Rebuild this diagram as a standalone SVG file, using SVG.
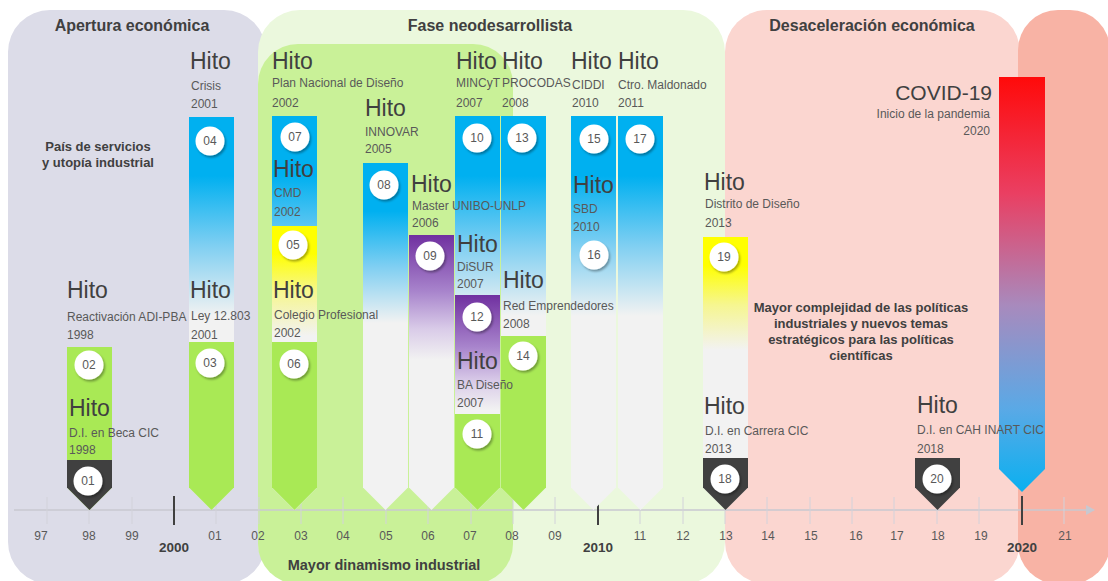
<svg xmlns="http://www.w3.org/2000/svg" width="1108" height="581" viewBox="0 0 1108 581">
<defs>
<style>
text{font-family:"Liberation Sans",Arial,sans-serif}
.h{font-size:23px;fill:#404040}
.d{font-size:12px;fill:#595959}
.t{font-size:16px;font-weight:bold;fill:#404040;text-anchor:middle}
.c{font-size:13px;font-weight:bold;fill:#404040;text-anchor:middle}
.n{font-size:12px;fill:#595959;text-anchor:middle}
.yr{font-size:12px;fill:#595959;text-anchor:middle}
.yb{font-size:13.5px;font-weight:bold;fill:#404040;text-anchor:middle}
.ci{fill:#fff;filter:url(#sh)}
.green{fill:#a9e955}
.dark{fill:#404040}
.grid{stroke:#d2d2da;stroke-width:1}
.major{stroke:#404040;stroke-width:2}
</style>
<filter id="sh" x="-30%" y="-30%" width="170%" height="170%">
<feDropShadow dx="1.5" dy="2" stdDeviation="1.3" flood-color="#000" flood-opacity="0.35"/>
</filter>
<linearGradient id="gBlue" gradientUnits="userSpaceOnUse" x1="0" x2="0" y1="116" y2="316">
<stop offset="0" stop-color="#00b0f0"/><stop offset="0.3" stop-color="#00b0f0"/><stop offset="0.65" stop-color="#80cff2"/><stop offset="1" stop-color="#f2f2f2"/>
</linearGradient>
<linearGradient id="gB163" href="#gBlue" y1="163" y2="323"/>
<linearGradient id="gPurple" gradientUnits="userSpaceOnUse" x1="0" x2="0" y1="235" y2="360">
<stop offset="0" stop-color="#7030a0"/><stop offset="0.45" stop-color="#a884cc"/><stop offset="0.75" stop-color="#d9cbe8"/><stop offset="1" stop-color="#f2f2f2"/>
</linearGradient>
<linearGradient id="gP295" href="#gPurple" y1="295" y2="410"/>
<linearGradient id="gYellow" gradientUnits="userSpaceOnUse" x1="0" x2="0" y1="226" y2="336">
<stop offset="0" stop-color="#ffff00"/><stop offset="0.25" stop-color="#ffff00"/><stop offset="0.6" stop-color="#f6f690"/><stop offset="1" stop-color="#f2f2f2"/>
</linearGradient>
<linearGradient id="gY237" href="#gYellow" y1="237" y2="350"/>
<linearGradient id="gCovid" x1="0" x2="0" y1="0" y2="1">
<stop offset="0" stop-color="#ff0a0a"/><stop offset="0.28" stop-color="#ea3f62"/><stop offset="0.55" stop-color="#a88abd"/><stop offset="0.8" stop-color="#5aa9e6"/><stop offset="1" stop-color="#0ab0f0"/>
</linearGradient>
<marker id="arr" markerWidth="10" markerHeight="10" refX="8" refY="5" orient="auto" markerUnits="userSpaceOnUse">
<path d="M0 0L9 5L0 10Z" fill="#c8c8d0"/>
</marker>
</defs>

<g id="periods">
<rect x="8" y="10" width="258" height="574" rx="42" fill="#dcdce8"/>
<rect x="258" y="10" width="467" height="574" rx="42" fill="#ebf8dd"/>
<rect x="258" y="44" width="255" height="540" rx="40" fill="#c9f198"/>
<rect x="725" y="10" width="295" height="574" rx="42" fill="#fbd6d0"/>
<rect x="1018" y="10" width="92" height="574" rx="40" fill="#f8b3a5"/>
<text class="t" x="132" y="31">Apertura económica</text>
<text class="t" x="490" y="31">Fase neodesarrollista</text>
<text class="t" x="872" y="31">Desaceleración económica</text>
<text class="c" x="98" y="151">País de servicios</text>
<text class="c" x="98" y="167">y utopía industrial</text>
<text class="c" x="384" y="570" style="font-size:14.5px">Mayor dinamismo industrial</text>
<text class="c" x="861" y="312">Mayor complejidad de las políticas</text>
<text class="c" x="861" y="328">industriales y nuevos temas</text>
<text class="c" x="861" y="344">estratégicos para las políticas</text>
<text class="c" x="861" y="360">científicas</text>
</g>

<g id="connectors">
<line x1="14" y1="510" x2="1094" y2="510" stroke="#c8c8d0" stroke-width="1.5" marker-end="url(#arr)"/>
<g class="grid">
<line x1="47" y1="497" x2="47" y2="524"/><line x1="89" y1="497" x2="89" y2="524"/><line x1="132" y1="497" x2="132" y2="524"/>
<line x1="216" y1="497" x2="216" y2="524"/><line x1="259" y1="497" x2="259" y2="524"/><line x1="301" y1="497" x2="301" y2="524"/>
<line x1="343" y1="497" x2="343" y2="524"/><line x1="386" y1="497" x2="386" y2="524"/><line x1="428" y1="497" x2="428" y2="524"/>
<line x1="471" y1="497" x2="471" y2="524"/><line x1="513" y1="497" x2="513" y2="524"/><line x1="555" y1="497" x2="555" y2="524"/>
<line x1="640" y1="497" x2="640" y2="524"/><line x1="683" y1="497" x2="683" y2="524"/><line x1="725" y1="497" x2="725" y2="524"/>
<line x1="767" y1="497" x2="767" y2="524"/><line x1="810" y1="497" x2="810" y2="524"/><line x1="852" y1="497" x2="852" y2="524"/>
<line x1="894" y1="497" x2="894" y2="524"/><line x1="937" y1="497" x2="937" y2="524"/><line x1="979" y1="497" x2="979" y2="524"/>
<line x1="1064" y1="497" x2="1064" y2="524"/>
</g>
<g class="major">
<line x1="174" y1="496" x2="174" y2="525"/><line x1="598" y1="496" x2="598" y2="525"/><line x1="1022" y1="496" x2="1022" y2="525"/>
</g>
<g>
<text class="yr" x="41" y="540">97</text><text class="yr" x="89" y="540">98</text><text class="yr" x="132" y="540">99</text>
<text class="yr" x="215" y="540">01</text><text class="yr" x="258" y="540">02</text><text class="yr" x="301" y="540">03</text>
<text class="yr" x="343" y="540">04</text><text class="yr" x="386" y="540">05</text><text class="yr" x="428" y="540">06</text>
<text class="yr" x="470" y="540">07</text><text class="yr" x="512" y="540">08</text><text class="yr" x="555" y="540">09</text>
<text class="yr" x="640" y="540">11</text><text class="yr" x="683" y="540">12</text><text class="yr" x="726" y="540">13</text>
<text class="yr" x="768" y="540">14</text><text class="yr" x="811" y="540">15</text><text class="yr" x="856" y="540">16</text>
<text class="yr" x="897" y="540">17</text><text class="yr" x="938" y="540">18</text><text class="yr" x="981" y="540">19</text>
<text class="yr" x="1065" y="540">21</text>
<text class="yb" x="174" y="552">2000</text><text class="yb" x="598" y="552">2010</text><text class="yb" x="1022" y="552">2020</text>
</g>
</g>

<g id="n02">
<path class="green" d="M67 347H112V487.5L89.5 510L67 487.5Z"/>
<circle class="ci" cx="89" cy="365" r="14.5"/><text class="n" x="89" y="369">02</text>
<text class="h" x="67" y="298">Hito</text><text class="d" x="67" y="321">Reactivación ADI-PBA</text><text class="d" x="67" y="339">1998</text>
</g>
<g id="n01">
<path class="dark" d="M67 460H112V487.5L89.5 510L67 487.5Z"/>
<circle class="ci" cx="88" cy="481" r="14.5"/><text class="n" x="88" y="485">01</text>
<text class="h" x="69" y="416">Hito</text><text class="d" x="69" y="437">D.I. en Beca CIC</text><text class="d" x="69" y="454">1998</text>
</g>
<g id="n04">
<path fill="url(#gBlue)" d="M189 117H234V487.5L211.5 510L189 487.5Z"/>
<circle class="ci" cx="210" cy="141" r="14.5"/><text class="n" x="210" y="145">04</text>
<text class="h" x="190" y="69">Hito</text><text class="d" x="191" y="90">Crisis</text><text class="d" x="191" y="108">2001</text>
</g>
<g id="n03">
<path class="green" d="M189 342H234V487.5L211.5 510L189 487.5Z"/>
<circle class="ci" cx="210" cy="363" r="14.5"/><text class="n" x="210" y="367">03</text>
<text class="h" x="190" y="298">Hito</text><text class="d" x="191" y="320">Ley 12.803</text><text class="d" x="191" y="339">2001</text>
</g>
<g id="n07">
<path fill="url(#gBlue)" d="M272 116H317V487.5L294.5 510L272 487.5Z"/>
<circle class="ci" cx="295" cy="137" r="14.5"/><text class="n" x="295" y="141">07</text>
<text class="h" x="272" y="69">Hito</text><text class="d" x="272" y="87">Plan Nacional de Diseño</text><text class="d" x="272" y="107">2002</text>
<text class="h" x="273" y="177">Hito</text><text class="d" x="274" y="197">CMD</text><text class="d" x="274" y="216">2002</text>
</g>
<g id="n05">
<path fill="url(#gYellow)" d="M272 226H317V487.5L294.5 510L272 487.5Z"/>
<circle class="ci" cx="293" cy="245" r="14.5"/><text class="n" x="293" y="249">05</text>
</g>
<g id="n08">
<path fill="url(#gB163)" d="M363 163H408V487.5L385.5 510L363 487.5Z"/>
<circle class="ci" cx="384" cy="185" r="14.5"/><text class="n" x="384" y="189">08</text>
<text class="h" x="365" y="116">Hito</text><text class="d" x="365" y="136">INNOVAR</text><text class="d" x="365" y="153">2005</text>
</g>
<g id="n06">
<path class="green" d="M272 342H317V487.5L294.5 510L272 487.5Z"/>
<circle class="ci" cx="294" cy="364" r="14.5"/><text class="n" x="294" y="368">06</text>
<text class="h" x="273" y="298">Hito</text><text class="d" x="274" y="319">Colegio Profesional</text><text class="d" x="274" y="337">2002</text>
</g>
<g id="n10">
<path fill="url(#gBlue)" d="M455 116H500V487.5L477.5 510L455 487.5Z"/>
<circle class="ci" cx="477" cy="138" r="14.5"/><text class="n" x="477" y="142">10</text>
<text class="h" x="456" y="69">Hito</text><text class="d" x="456" y="87">MINCyT</text><text class="d" x="456" y="107">2007</text>
<text class="h" x="457" y="252">Hito</text><text class="d" x="457" y="271">DiSUR</text><text class="d" x="457" y="288">2007</text>
</g>
<g id="n13">
<path fill="url(#gBlue)" d="M501 116H546V487.5L523.5 510L501 487.5Z"/>
<circle class="ci" cx="522" cy="138" r="14.5"/><text class="n" x="522" y="142">13</text>
<text class="h" x="502" y="69">Hito</text><text class="d" x="502" y="87">PROCODAS</text><text class="d" x="502" y="107">2008</text>
</g>
<g id="n09">
<path fill="url(#gPurple)" d="M409 235H454V487.5L431.5 510L409 487.5Z"/>
<circle class="ci" cx="430" cy="256" r="14.5"/><text class="n" x="430" y="260">09</text>
<text class="h" x="411" y="192">Hito</text><text class="d" x="412" y="210">Master UNIBO-UNLP</text><text class="d" x="412" y="227">2006</text>
</g>
<g id="n15">
<path fill="url(#gBlue)" d="M571 116H616V487.5L593.5 510L571 487.5Z"/>
<circle class="ci" cx="594" cy="139" r="14.5"/><text class="n" x="594" y="143">15</text>
<text class="h" x="571" y="69">Hito</text><text class="d" x="572" y="89">CIDDI</text><text class="d" x="572" y="107">2010</text>
</g>
<g id="n16">
<circle class="ci" cx="594" cy="255" r="14.5"/><text class="n" x="594" y="259">16</text>
<text class="h" x="573" y="193">Hito</text><text class="d" x="573" y="213">SBD</text><text class="d" x="573" y="231">2010</text>
</g>
<g id="n14">
<path class="green" d="M501 336H546V487.5L523.5 510L501 487.5Z"/>
<circle class="ci" cx="523" cy="356" r="14.5"/><text class="n" x="523" y="360">14</text>
<text class="h" x="503" y="288">Hito</text><text class="d" x="503" y="310">Red Emprendedores</text><text class="d" x="503" y="328">2008</text>
</g>
<g id="n12">
<path fill="url(#gP295)" d="M455 295H500V487.5L477.5 510L455 487.5Z"/>
<circle class="ci" cx="477" cy="317" r="14.5"/><text class="n" x="477" y="321">12</text>
<text class="h" x="457" y="369">Hito</text><text class="d" x="457" y="389">BA Diseño</text><text class="d" x="457" y="407">2007</text>
</g>
<g id="n11">
<path class="green" d="M455 414H500V487.5L477.5 510L455 487.5Z"/>
<circle class="ci" cx="477" cy="434" r="14.5"/><text class="n" x="477" y="438">11</text>
</g>
<g id="n17">
<path fill="url(#gBlue)" d="M618 116H663V487.5L640.5 510L618 487.5Z"/>
<circle class="ci" cx="640" cy="139" r="14.5"/><text class="n" x="640" y="143">17</text>
<text class="h" x="618" y="69">Hito</text><text class="d" x="618" y="89">Ctro. Maldonado</text><text class="d" x="618" y="107">2011</text>
</g>
<g id="n19">
<path fill="url(#gY237)" d="M703 237H748V487.5L725.5 510L703 487.5Z"/>
<circle class="ci" cx="724" cy="257" r="14.5"/><text class="n" x="724" y="261">19</text>
<text class="h" x="704" y="190">Hito</text><text class="d" x="705" y="208">Distrito de Diseño</text><text class="d" x="705" y="227">2013</text>
</g>
<g id="n18">
<path class="dark" d="M703 458H748V487.5L725.5 510L703 487.5Z"/>
<circle class="ci" cx="725" cy="479" r="14.5"/><text class="n" x="725" y="483">18</text>
<text class="h" x="704" y="414">Hito</text><text class="d" x="705" y="435">D.I. en Carrera CIC</text><text class="d" x="705" y="453">2013</text>
</g>
<g id="covid">
<path fill="url(#gCovid)" d="M999 77H1045V469L1022 492L999 469Z"/>
<text class="h" x="992" y="100" text-anchor="end" style="font-size:21px">COVID-19</text>
<text class="d" x="990" y="118" text-anchor="end">Inicio de la pandemia</text>
<text class="d" x="990" y="135" text-anchor="end">2020</text>
</g>
<g id="n20">
<path class="dark" d="M915 458H960V487.5L937.5 510L915 487.5Z"/>
<circle class="ci" cx="937" cy="479" r="14.5"/><text class="n" x="937" y="483">20</text>
<text class="h" x="917" y="413">Hito</text><text class="d" x="917" y="434">D.I. en CAH INART CIC</text><text class="d" x="917" y="453">2018</text>
</g>
</svg>
